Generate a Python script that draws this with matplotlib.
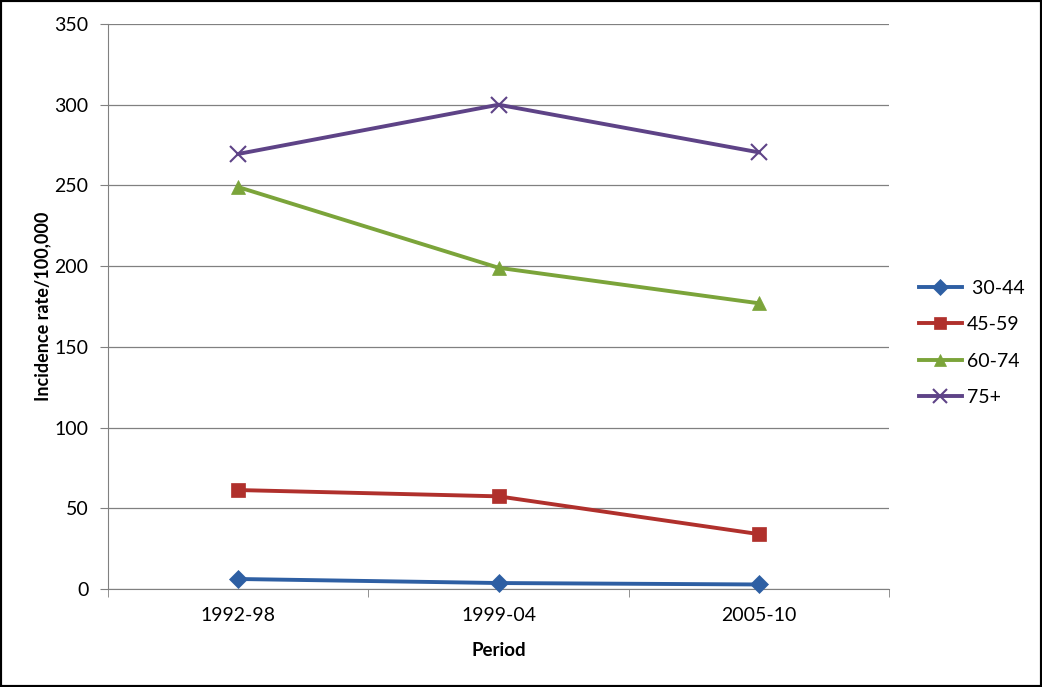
import numpy as np
import matplotlib
matplotlib.use('Agg')
import matplotlib.pyplot as plt
from matplotlib.patches import Rectangle

# Data
periods = ['1992-98', '1999-04', '2005-10']
age_groups = [' 30-44', '45-59', '60-74', '75+']
rate_30_44 = [6.2, 3.7, 2.8]
rate_45_59 = [61.3, 57.4, 34.0]
rate_60_74 = [249.0, 199.0, 177.0]
rate_75_plus = [269.5, 300.0, 270.5]

colors = ['#2E5FA3', '#B0302C', '#7BA43A', '#5E4387']
markers = ['D', 's', '^', 'x']
msizes = [9, 10, 10, 11]

plt.rcParams['font.family'] = ['Lato', 'DejaVu Sans']

fig = plt.figure(figsize=(10.42, 6.87), dpi=100)
ax = fig.add_axes([108 / 1042, 1 - 589 / 687, (889 - 108) / 1042, (589 - 24) / 687])

x = np.arange(len(periods))
series = [rate_30_44, rate_45_59, rate_60_74, rate_75_plus]
for vals, name, c, m, ms in zip(series, age_groups, colors, markers, msizes):
    ax.plot(x, vals, color=c, lw=2.8, marker=m, markersize=ms,
            markeredgewidth=1.5 if m == 'x' else 0.5, markeredgecolor=c,
            label=name, clip_on=False, zorder=3)

ax.set_xlim(-0.5, 2.5)
ax.set_ylim(0, 350)
ax.set_yticks(np.arange(0, 351, 50))
ax.set_xticks(x)
ax.set_xticklabels(periods)
ax.set_xticks([-0.5, 0.5, 1.5, 2.5], minor=True)
ax.tick_params(axis='x', which='major', length=0, pad=13, labelsize=14)
ax.tick_params(axis='x', which='minor', length=6, direction='out', color='#808080')
ax.tick_params(axis='y', length=6, direction='out', color='#808080', labelsize=14, pad=8)

ax.grid(axis='y', color='#808080', lw=0.9)
ax.set_axisbelow(True)
for s in ['top', 'right']:
    ax.spines[s].set_visible(False)
for s in ['left', 'bottom']:
    ax.spines[s].set_color('#808080')

ax.set_xlabel('Period', fontsize=13.5, fontweight='bold', labelpad=13)
ax.set_ylabel('Incidence rate/100,000', fontsize=13, fontweight='bold', labelpad=2)

leg = fig.legend(loc='center left', bbox_to_anchor=(919 / 1042, 1 - 343 / 687),
                 frameon=False, fontsize=14, handlelength=2.2, labelspacing=1.0,
                 handletextpad=0.25, borderpad=0, borderaxespad=0, markerscale=0.9)

# black frame around the whole picture
fig.patches.append(Rectangle((0, 0), 1, 1, transform=fig.transFigure, fill=False,
                             edgecolor='black', lw=3))

fig.savefig('out.png', dpi=100)
